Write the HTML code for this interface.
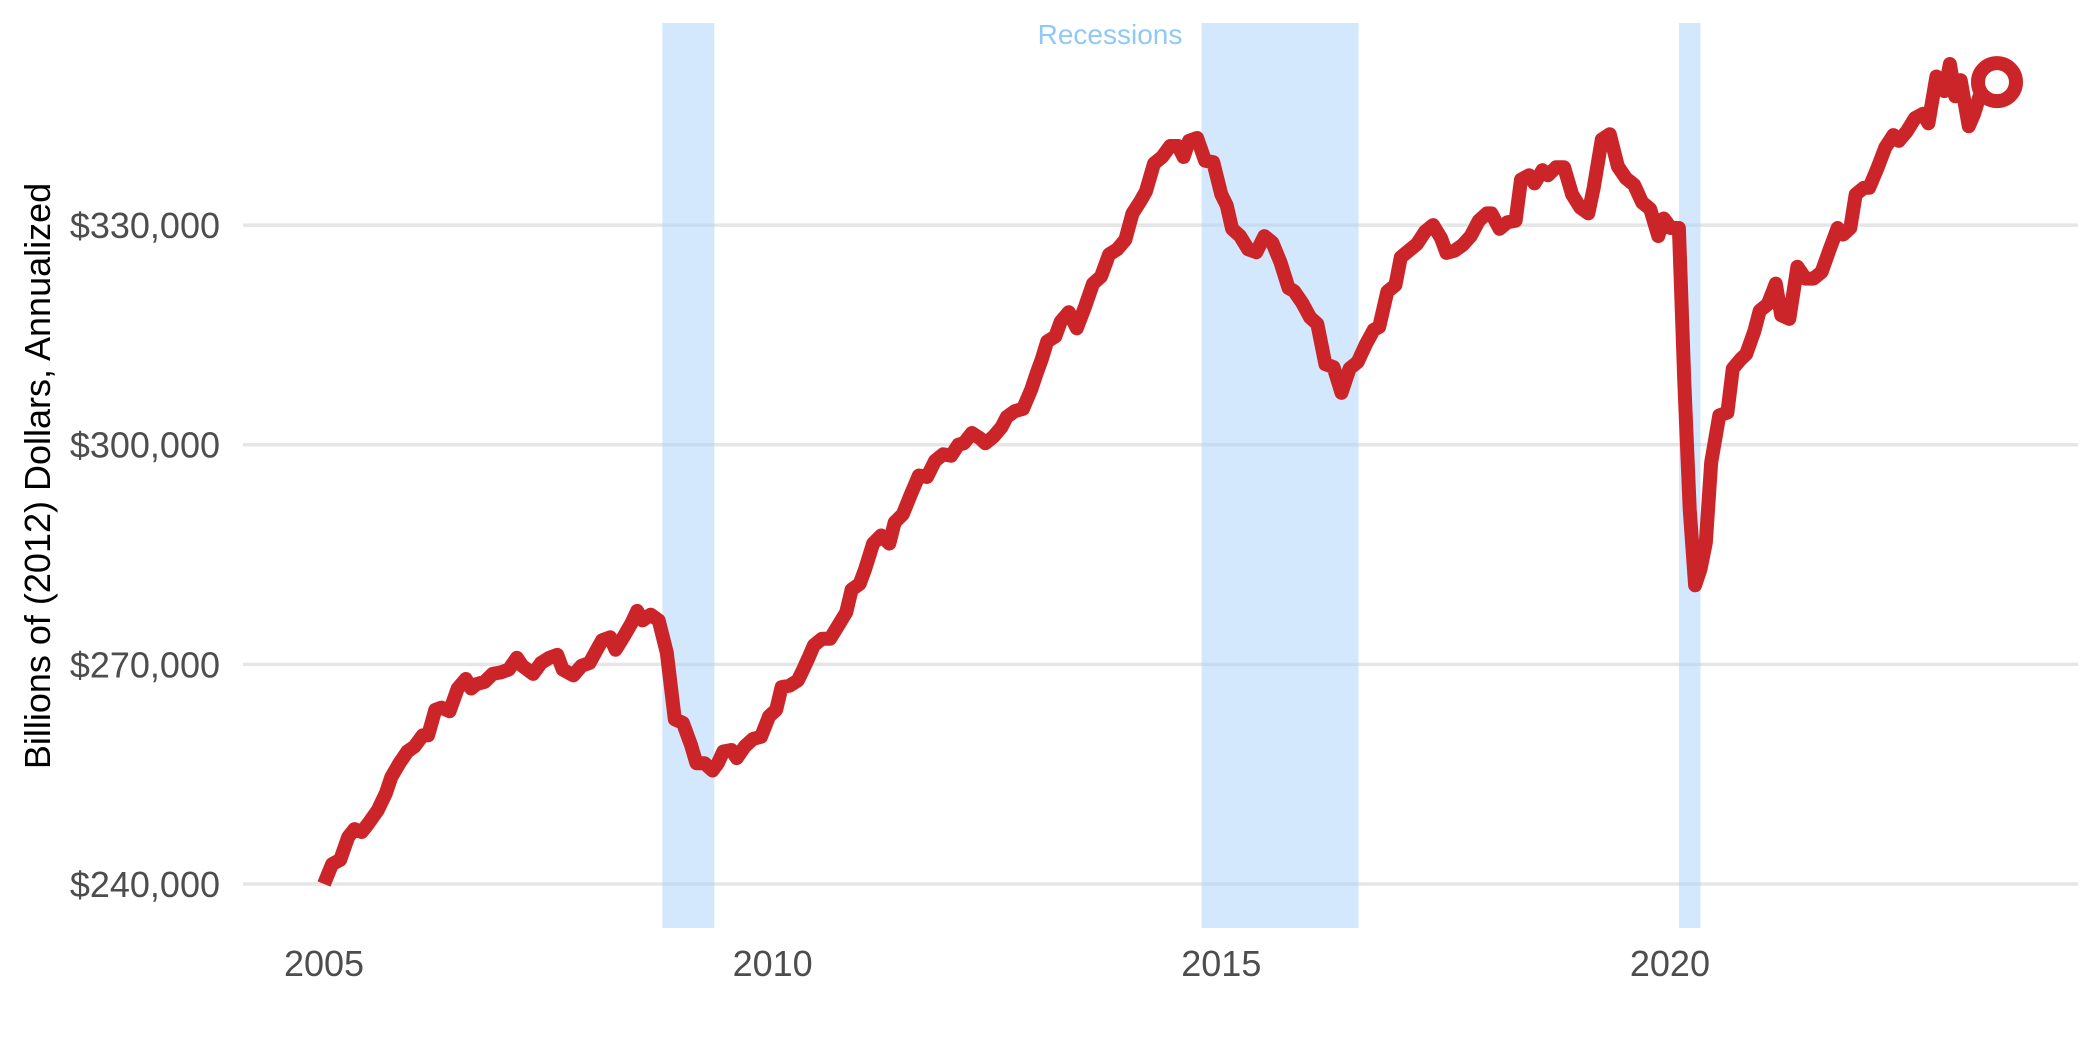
<!DOCTYPE html>
<html><head><meta charset="utf-8"><style>
body{margin:0;background:#fff;}
svg{display:block;font-family:"Liberation Sans",sans-serif;}
</style></head><body>
<svg id="chart" width="2100" height="1050" viewBox="0 0 2100 1050"></svg>
<script>
const years=[2005.00,2005.09,2005.18,2005.27,2005.34,2005.42,2005.49,2005.60,2005.69,2005.75,2005.84,2005.93,2006.01,2006.10,2006.16,2006.24,2006.31,2006.40,2006.49,2006.58,2006.64,2006.70,2006.79,2006.88,2006.97,2007.06,2007.15,2007.21,2007.33,2007.42,2007.51,2007.60,2007.66,2007.78,2007.87,2007.96,2008.04,2008.10,2008.19,2008.25,2008.34,2008.43,2008.49,2008.55,2008.64,2008.73,2008.82,2008.91,2009.00,2009.09,2009.15,2009.24,2009.33,2009.39,2009.45,2009.54,2009.60,2009.69,2009.78,2009.87,2009.96,2010.04,2010.10,2010.19,2010.28,2010.34,2010.40,2010.46,2010.55,2010.64,2010.73,2010.82,2010.88,2010.97,2011.03,2011.12,2011.21,2011.30,2011.36,2011.45,2011.54,2011.63,2011.72,2011.81,2011.90,2011.99,2012.07,2012.13,2012.22,2012.31,2012.37,2012.46,2012.55,2012.61,2012.70,2012.79,2012.88,2012.94,2013.00,2013.06,2013.15,2013.21,2013.30,2013.39,2013.48,2013.57,2013.66,2013.75,2013.84,2013.93,2014.01,2014.10,2014.16,2014.25,2014.34,2014.43,2014.52,2014.58,2014.64,2014.73,2014.82,2014.91,2015.00,2015.06,2015.12,2015.21,2015.30,2015.39,2015.48,2015.57,2015.66,2015.75,2015.81,2015.90,2015.99,2016.07,2016.16,2016.25,2016.34,2016.43,2016.52,2016.61,2016.70,2016.76,2016.85,2016.94,2017.00,2017.09,2017.18,2017.27,2017.36,2017.45,2017.51,2017.60,2017.69,2017.78,2017.87,2017.96,2018.01,2018.10,2018.19,2018.28,2018.34,2018.43,2018.49,2018.58,2018.64,2018.73,2018.82,2018.91,2019.00,2019.09,2019.15,2019.24,2019.33,2019.42,2019.51,2019.60,2019.69,2019.78,2019.87,2019.93,2020.01,2020.10,2020.16,2020.22,2020.28,2020.34,2020.40,2020.46,2020.55,2020.64,2020.70,2020.79,2020.85,2020.94,2021.00,2021.09,2021.18,2021.24,2021.33,2021.42,2021.51,2021.60,2021.69,2021.78,2021.87,2021.93,2022.01,2022.07,2022.16,2022.22,2022.31,2022.40,2022.49,2022.55,2022.64,2022.73,2022.82,2022.88,2022.97,2023.06,2023.12,2023.18,2023.24,2023.33,2023.39,2023.45,2023.51,2023.60];
const values=[240.0,242.7,243.3,246.4,247.5,247.1,248.2,250.1,252.4,254.6,256.5,258.1,258.8,260.3,260.3,263.8,264.1,263.6,266.7,268.0,266.7,267.3,267.6,268.7,268.9,269.3,270.9,269.8,268.7,270.2,270.9,271.3,269.3,268.5,269.8,270.2,272.0,273.3,273.7,272.0,273.8,275.7,277.3,276.0,276.8,276.0,271.6,262.5,262.0,259.0,256.5,256.5,255.5,256.5,258.1,258.3,257.2,258.8,259.8,260.1,262.9,263.8,266.9,267.1,267.8,269.3,270.9,272.6,273.5,273.5,275.3,277.1,280.2,281.0,283.0,286.5,287.6,286.5,289.4,290.5,293.2,295.8,295.6,297.8,298.7,298.5,300.0,300.2,301.6,300.9,300.2,301.1,302.4,303.8,304.6,304.9,307.5,309.7,311.7,314.1,314.8,316.8,318.1,315.9,318.8,322.0,323.0,326.0,326.7,328.0,331.6,333.3,334.6,338.4,339.3,340.8,340.8,339.3,341.5,341.9,338.8,338.6,334.2,332.7,329.5,328.5,326.7,326.3,328.5,327.6,324.9,321.4,321.0,319.4,317.4,316.5,311.0,310.6,307.1,310.4,311.3,313.7,315.7,316.1,320.9,321.8,325.6,326.5,327.4,329.1,330.0,328.2,326.2,326.5,327.3,328.5,330.6,331.6,331.6,329.5,330.4,330.6,336.2,336.8,335.7,337.5,336.8,337.9,337.9,334.2,332.4,331.6,335.1,341.7,342.4,338.0,336.4,335.5,333.1,332.2,328.5,330.9,329.6,329.6,308.6,291.2,280.8,283.0,286.6,297.6,304.0,304.4,310.4,311.7,312.4,315.5,318.3,319.2,322.0,317.7,317.2,324.3,322.7,322.7,323.6,326.7,329.6,328.7,329.6,334.2,335.1,335.1,337.7,340.6,342.3,341.5,342.8,344.6,345.2,343.9,350.3,348.3,352.0,347.6,349.8,343.5,345.2,347.6,348.8,349.8];
const yTicks=[240,270,300,330];
const yTickLabels=["$240,000","$270,000","$300,000","$330,000"];
const xTicks=[2005,2010,2015,2020];
const recStart=[2008.77,2014.78,2020.10];
const recEnd=[2009.35,2016.53,2020.34];

const NS="http://www.w3.org/2000/svg";
const svg=document.getElementById('chart');
function X(yr){return 324+(yr-2005)*89.73;}
function Y(v){return 884-(v-240)*7.321;}
function mk(tag,attrs,parent){const e=document.createElementNS(NS,tag);for(const k in attrs)e.setAttribute(k,attrs[k]);(parent||svg).appendChild(e);return e;}

yTicks.forEach((t,i)=>{
  const g=mk('line',{x1:243,x2:2078,y1:Y(t),y2:Y(t),stroke:'#e6e6e6','stroke-width':3.5});
  
  
  const tx=mk('text',{x:220,y:Y(t)+13,'text-anchor':'end','font-size':36,fill:'#4d4d4d'});
  tx.textContent=yTickLabels[i];
  
  
});
recStart.forEach((s,i)=>{
  const r=mk('rect',{x:X(s),y:23,width:X(recEnd[i])-X(s),height:905,fill:'#a8d1fb','fill-opacity':0.5});
  
  
});
const rl=mk('text',{x:1110,y:44,'text-anchor':'middle','font-size':28,fill:'#90c8f8'});
rl.textContent='Recessions';


xTicks.forEach(t=>{
  const tx=mk('text',{x:X(t),y:976,'text-anchor':'middle','font-size':36,fill:'#4d4d4d'});
  tx.textContent=String(t);
  
  
});
const yt=mk('text',{x:0,y:0,transform:'translate(50,476) rotate(-90)','text-anchor':'middle','font-size':36,fill:'#000'});
yt.textContent='Billions of (2012) Dollars, Annualized';


const pts=years.map((y,i)=>X(y).toFixed(1)+','+Y(values[i]).toFixed(1)).join(' ');
const pl=mk('polyline',{points:pts,fill:'none',stroke:'#cc2529','stroke-width':14,'stroke-linejoin':'round','stroke-linecap':'butt'});


const n=years.length-1;
const c=mk('circle',{cx:X(years[n])+4,cy:Y(values[n])+2,r:19,fill:'#fff',stroke:'#cc2529','stroke-width':14});


</script>
</body></html>
